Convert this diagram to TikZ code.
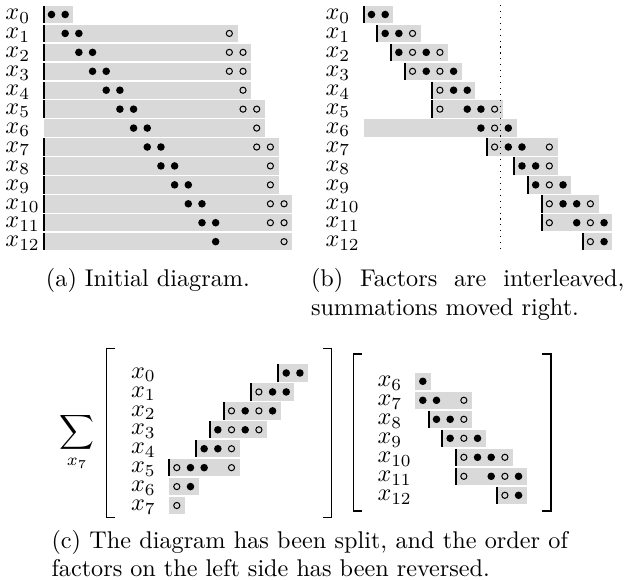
\documentclass[tikz,border=0pt]{standalone}
\usepackage{amsmath}
\newcommand{\colsp}{13.68}
\tikzset{
  barfill/.style={fill=black!15},
  thickbar/.style={line width=0.85pt},
  opendot/.style={line width=0.42pt},
  lbl/.style={anchor=base west, inner sep=0pt, outer sep=0pt},
  bracketline/.style={line width=0.65pt},
  dotline/.style={dotted, line width=0.45pt},
}
\newcommand{\barrow}[5]{%
  \fill[barfill] ({#1+\colsp*(#3)-7.8},{#2-8.7}) rectangle ({#1+\colsp*(#4)+8.2},{#2+8.7});%
  \ifnum#5=1\relax
    \draw[thickbar] ({#1+\colsp*(#3)-7.8},{#2-8.7}) -- ({#1+\colsp*(#3)-7.8},{#2+8.7});%
  \fi}
\newcommand{\fdots}[3]{\foreach \c in {#3}{\fill ({#1+\colsp*\c},{#2}) circle[radius=1.56pt];}}
\newcommand{\odots}[3]{\foreach \c in {#3}{\draw[opendot] ({#1+\colsp*\c},{#2}) circle[radius=1.27pt];}}
\newcommand{\drow}[7]{%
  \barrow{#1}{#2}{#3}{#4}{#5}%
  \if\relax\detokenize{#6}\relax\else\fdots{#1}{#2}{#6}\fi
  \if\relax\detokenize{#7}\relax\else\odots{#1}{#2}{#7}\fi}
\begin{document}
\begin{tikzpicture}[x=0.41322pt,y=-0.41322pt]
\useasboundingbox (0,0) rectangle (627,579);
% ---------- panel (a)
\foreach \i in {0,...,12}{\node[lbl] (la\i) at (5.5,{14.5+18.93*\i+5.2}) {$x_{\i}$};}
\drow{51.5}{14.5+18.93*0}{0}{1}{1}{0,1}{}
\drow{51.5}{14.5+18.93*1}{0}{13}{1}{1,2}{13}
\drow{51.5}{14.5+18.93*2}{0}{14}{1}{2,3}{13,14}
\drow{51.5}{14.5+18.93*3}{0}{14}{1}{3,4}{13,14}
\drow{51.5}{14.5+18.93*4}{0}{14}{1}{4,5}{14}
\drow{51.5}{14.5+18.93*5}{0}{15}{1}{5,6}{14,15}
\drow{51.5}{14.5+18.93*6}{0}{15}{0}{6,7}{15}
\drow{51.5}{14.5+18.93*7}{0}{16}{1}{7,8}{15,16}
\drow{51.5}{14.5+18.93*8}{0}{16}{1}{8,9}{16}
\drow{51.5}{14.5+18.93*9}{0}{16}{1}{9,10}{16}
\drow{51.5}{14.5+18.93*10}{0}{17}{1}{10,11}{16,17}
\drow{51.5}{14.5+18.93*11}{0}{17}{1}{11,12}{16,17}
\drow{51.5}{14.5+18.93*12}{0}{17}{1}{12}{17}
% ---------- panel (b)
\foreach \i in {0,...,12}{\node[lbl] (lb\i) at (325.5,{14.5+18.93*\i+5.2}) {$x_{\i}$};}
\drow{371.5}{14.5+18.93*0}{0}{1}{1}{0,1}{}
\drow{371.5}{14.5+18.93*1}{1}{3}{1}{1,2}{3}
\drow{371.5}{14.5+18.93*2}{2}{5}{1}{2,4}{3,5}
\drow{371.5}{14.5+18.93*3}{3}{6}{1}{4,6}{3,5}
\drow{371.5}{14.5+18.93*4}{5}{7}{1}{6,7}{5}
\drow{371.5}{14.5+18.93*5}{5}{9}{1}{7,8}{5,9}
\drow{371.5}{14.5+18.93*6}{0}{10}{0}{8,10}{9}
\drow{371.5}{14.5+18.93*7}{9}{13}{1}{10,11}{9,13}
\drow{371.5}{14.5+18.93*8}{11}{13}{1}{11,12}{13}
\drow{371.5}{14.5+18.93*9}{12}{14}{1}{12,14}{13}
\drow{371.5}{14.5+18.93*10}{13}{16}{1}{14,15}{13,16}
\drow{371.5}{14.5+18.93*11}{13}{17}{1}{15,17}{13,16}
\drow{371.5}{14.5+18.93*12}{16}{17}{1}{17}{16}
\coordinate (dtop) at (500.3,5);
\coordinate (dbot) at (500.3,250);
\draw[dotline] (dtop) -- (dbot);
% ---------- panel (c) left
\node[anchor=base, inner sep=0pt] (sum) at (77,438) {$\displaystyle\sum_{x_7}$};
\draw[bracketline] (115,348.5) -- (106.7,348.5) -- (106.7,517.5) -- (115,517.5);
\draw[bracketline] (323.4,348.5) -- (331.7,348.5) -- (331.7,517.5) -- (323.4,517.5);
\foreach \i in {0,...,7}{\node[lbl] (lc\i) at (131,{373+18.93*\i+5.2}) {$x_{\i}$};}
\drow{176.8}{373+18.93*0}{8}{9}{1}{8,9}{}
\drow{176.8}{373+18.93*1}{6}{8}{1}{7,8}{6}
\drow{176.8}{373+18.93*2}{4}{7}{1}{5,7}{4,6}
\drow{176.8}{373+18.93*3}{3}{6}{1}{3,5}{4,6}
\drow{176.8}{373+18.93*4}{2}{4}{1}{2,3}{4}
\drow{176.8}{373+18.93*5}{0}{4}{1}{1,2}{0,4}
\drow{176.8}{373+18.93*6}{0}{1}{0}{1}{0}
\drow{176.8}{373+18.93*7}{0}{0}{0}{}{0}
% ---------- panel (c) right
\draw[bracketline] (361.6,354) -- (353.3,354) -- (353.3,511) -- (361.6,511);
\draw[bracketline] (542.4,354) -- (550.7,354) -- (550.7,511) -- (542.4,511);
\foreach \i in {6,...,12}{\node[lbl] (ld\i) at (377.5,{381.3+19*(\i-6)+5.2}) {$x_{\i}$};}
\drow{422.8}{381.3+19*0}{0}{0}{0}{0}{}
\drow{422.8}{381.3+19*1}{0}{3}{0}{0,1}{3}
\drow{422.8}{381.3+19*2}{1}{3}{1}{1,2}{3}
\drow{422.8}{381.3+19*3}{2}{4}{1}{2,4}{3}
\drow{422.8}{381.3+19*4}{3}{6}{1}{4,5}{3,6}
\drow{422.8}{381.3+19*5}{3}{7}{1}{5,7}{3,6}
\drow{422.8}{381.3+19*6}{6}{7}{1}{7}{6}
% ---------- captions
\node[lbl] (capa) at (46,286) {(a) Initial diagram.};
\node[lbl] (capb1) at (311,286) {\makebox[129.5pt][s]{(b) Factors are interleaved,}};
\node[lbl] (capb2) at (311,315.6) {summations moved right.};
\node[lbl] (capc1) at (51.5,548) {\makebox[213.4pt][s]{(c) The diagram has been split, and the order of}};
\node[lbl] (capc2) at (51.5,576.5) {factors on the left side has been reversed.};
\end{tikzpicture}
\end{document}
